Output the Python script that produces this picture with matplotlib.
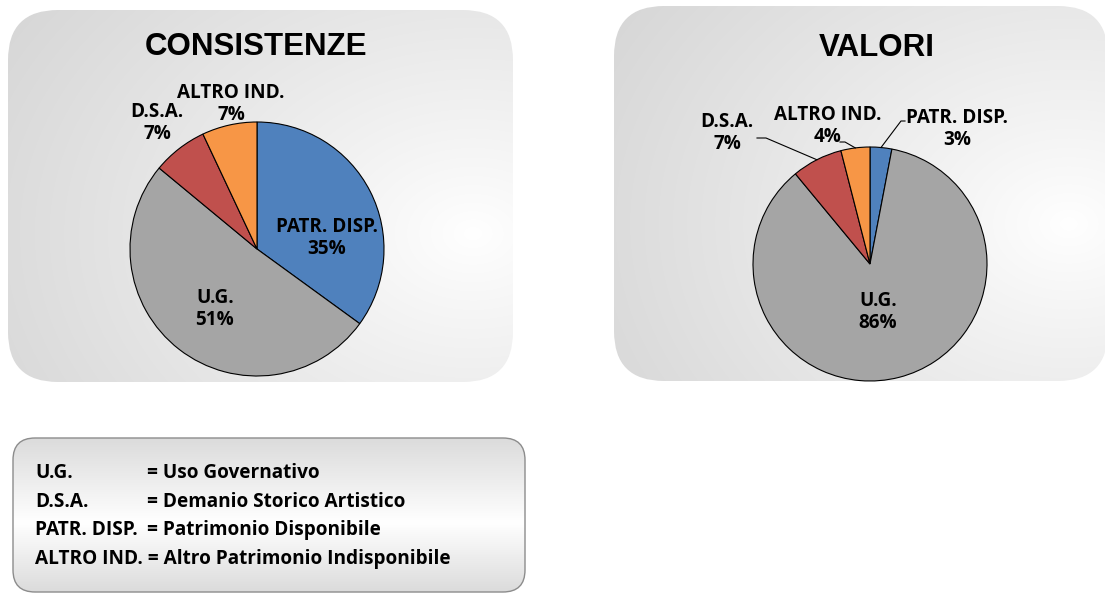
import numpy as np
import matplotlib.pyplot as plt
from matplotlib.patches import FancyBboxPatch

# ========= data =========
slice_labels = ["PATR. DISP.", "U.G.", "D.S.A.", "ALTRO IND."]
consistenze = [35, 51, 7, 7]
valori = [3, 86, 7, 4]
slice_colors = ["#4F81BD", "#A5A5A5", "#C0504D", "#F79646"]

legend_abbr = ["U.G.", "D.S.A.", "PATR. DISP.", "ALTRO IND."]
legend_desc = ["Uso Governativo", "Demanio Storico Artistico",
               "Patrimonio Disponibile", "Altro Patrimonio Indisponibile"]

# ========= layout (pixels) =========
W, H = 1105, 594
LABEL_FONT = "Open Sans"
TITLE_FONT = "Liberation Sans"

plt.rcParams.update({"font.family": LABEL_FONT, "font.weight": "bold"})

fig = plt.figure(figsize=(W / 100, H / 100), dpi=100)
fig.patch.set_facecolor("white")

bg = fig.add_axes([0, 0, 1, 1])
bg.axis("off")


def radial(w, h, fx, fy, c0=1.0, c1=0.84):
    yy, xx = np.mgrid[0:h, 0:w]
    d = np.hypot((xx - fx * w) / w, (yy - fy * h) / h)
    t = np.clip(d / d.max(), 0, 1) ** 0.9
    g = c0 + (c1 - c0) * t
    return np.dstack([g, g, g])


def vertical(w, h, mid=0.55, c0=1.0, c1=0.86):
    yy = np.linspace(0, 1, h)[:, None] * np.ones((1, w))
    t = np.where(yy < mid, (mid - yy) / mid, (yy - mid) / (1 - mid))
    g = c0 + (c1 - c0) * t
    return np.dstack([g, g, g])


def panel(x, y, w, h, rad, img, edge="none", lw=0):
    patch = FancyBboxPatch((x + rad, y + rad), w - 2 * rad, h - 2 * rad,
                           boxstyle=f"round,pad={rad},rounding_size={rad}",
                           facecolor="none", edgecolor=edge, linewidth=lw, zorder=3)
    bg.add_patch(patch)
    im = bg.imshow(img, extent=(x, x + w, y + h, y), origin="upper",
                   aspect="auto", zorder=1, interpolation="bilinear")
    im.set_clip_path(patch)


panel(8, 10, 505, 372, 50, radial(505, 372, 0.92, 0.6))
panel(614, 6, 494, 375, 50, radial(494, 375, 0.92, 0.58))
panel(13, 438, 512, 154, 22, vertical(512, 154), edge="#8c8c8c", lw=1.0)
bg.set_xlim(0, W)
bg.set_ylim(H, 0)

# ========= pies =========
PAD = 1.04


def draw_pie(cx, cy, r, vals):
    axp = fig.add_axes([(cx - PAD * r) / W, (H - cy - PAD * r) / H,
                        2 * PAD * r / W, 2 * PAD * r / H])
    wedges, _ = axp.pie(vals, colors=slice_colors, startangle=90,
                        counterclock=False, radius=1,
                        wedgeprops=dict(edgecolor="black", linewidth=0.8))
    axp.set_xlim(-PAD, PAD)
    axp.set_ylim(-PAD, PAD)
    axp.axis("off")
    return wedges


left_c = (257, 249, 127)
right_c = (870, 264, 117)
w_left = draw_pie(*left_c, consistenze)
w_right = draw_pie(*right_c, valori)

# overlay for texts
ov = fig.add_axes([0, 0, 1, 1])
ov.set_xlim(0, W)
ov.set_ylim(H, 0)
ov.axis("off")

ov.text(256, 47, "CONSISTENZE", ha="center", va="center", fontsize=22.5,
        fontweight="bold", family=TITLE_FONT)
ov.text(877, 48, "VALORI", ha="center", va="center", fontsize=22.5,
        fontweight="bold", family=TITLE_FONT)

# label positions (text centres, pixels)
left_pos = [(327, 238), (215, 309), (157, 123), (231, 104)]
right_pos = [(957, 129), (878, 312), (727, 133), (828, 126)]
# leader line start points for right pie (None = no line)
right_lead = [[(905, 121), (901, 121)], None,
              [(757, 138), (766, 138)], [(840, 142), (845, 142)]]

LBL_SIZE = 13.6
for lab, v, (x, y) in zip(slice_labels, consistenze, left_pos):
    ov.text(x, y, f"{lab}\n{v}%", ha="center", va="center", fontsize=LBL_SIZE,
            linespacing=1.18)

cx, cy, r = right_c
for lab, v, (x, y), lead, wd in zip(slice_labels, valori, right_pos, right_lead, w_right):
    ov.text(x, y, f"{lab}\n{v}%", ha="center", va="center", fontsize=LBL_SIZE,
            linespacing=1.18)
    if lead is not None:
        mid = np.deg2rad((wd.theta1 + wd.theta2) / 2)
        px = [p[0] for p in lead] + [cx + r * np.cos(mid)]
        py = [p[1] for p in lead] + [cy - r * np.sin(mid)]
        ov.plot(px, py, color="black", linewidth=0.8)

# ========= legend box text =========
leg_y = [473, 502, 530, 559]
LEG_SIZE = 13.7
for i, (ab, desc) in enumerate(zip(legend_abbr, legend_desc)):
    if i < 3:
        ov.text(35, leg_y[i], ab, ha="left", va="center", fontsize=LEG_SIZE)
        ov.text(147, leg_y[i], f"= {desc}", ha="left", va="center", fontsize=LEG_SIZE)
    else:
        ov.text(35, leg_y[i], f"{ab} = {desc}", ha="left", va="center", fontsize=LEG_SIZE)

fig.savefig("out.png", dpi=100)
